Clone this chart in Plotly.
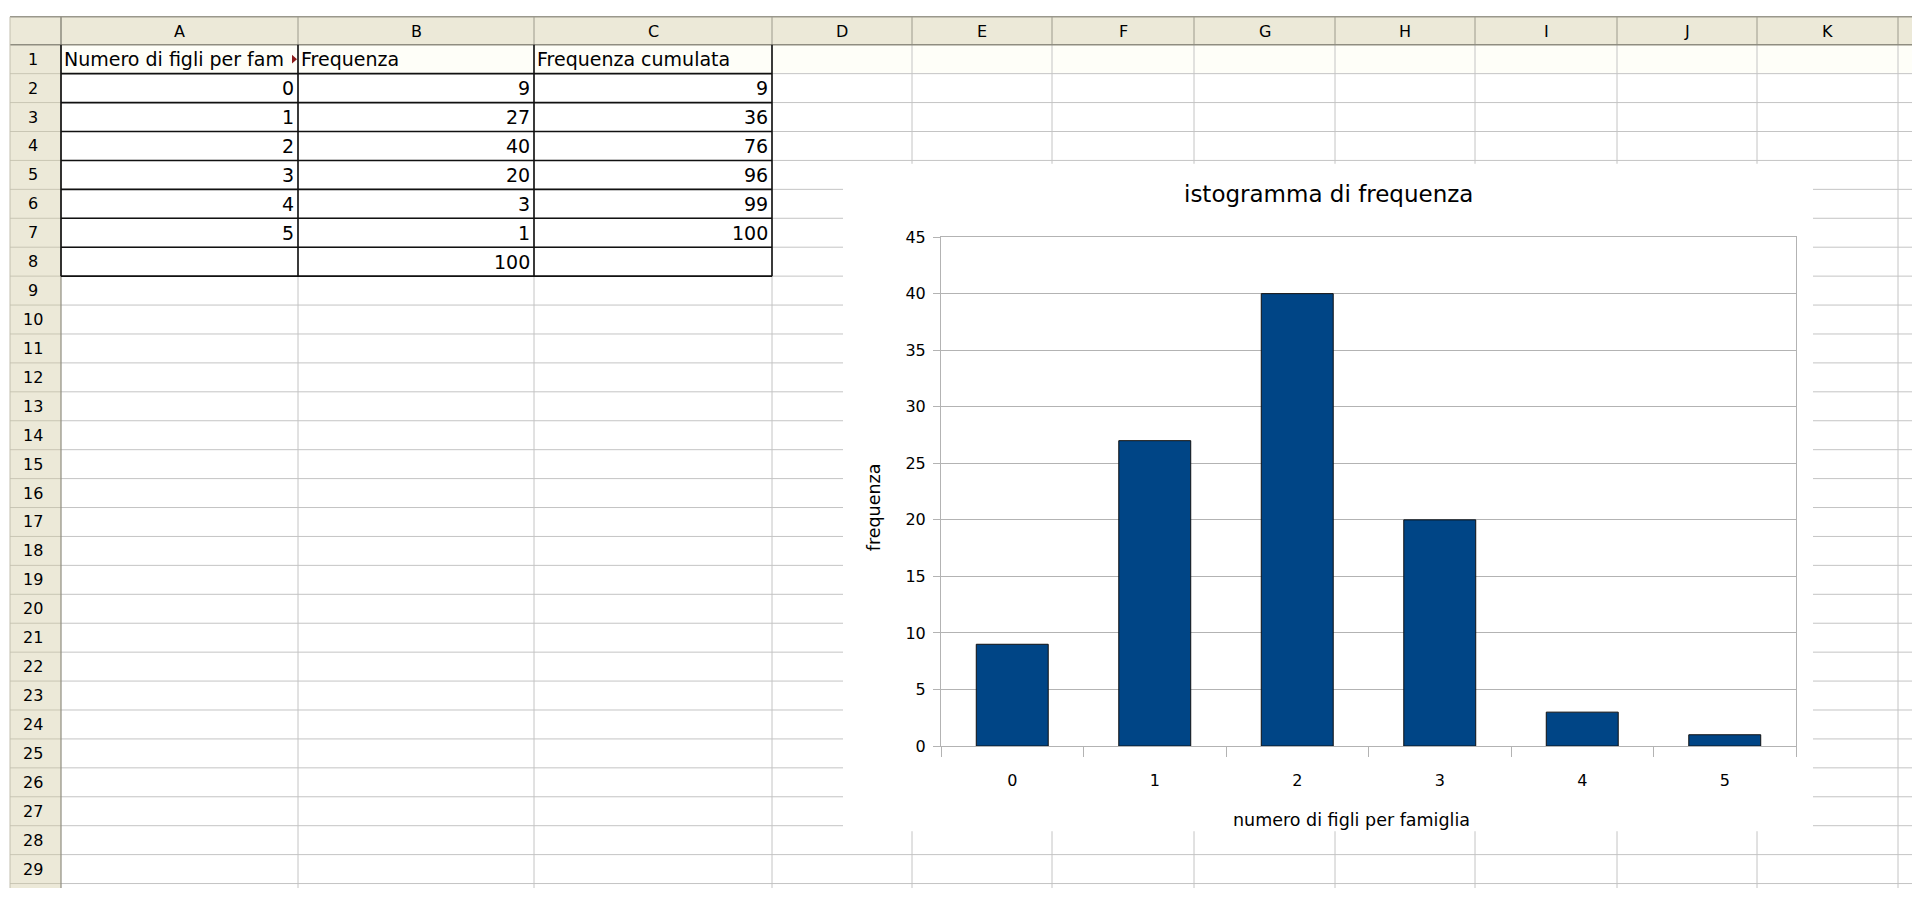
import plotly.graph_objects as go

# --- data shown in the sheet and in the chart ---
figli = [0, 1, 2, 3, 4, 5]
frequenza = [9, 27, 40, 20, 3, 1]
frequenza_cumulata = [9, 36, 76, 96, 99, 100]
totale = 100
intestazioni = ["Numero di figli per fam", "Frequenza", "Frequenza cumulata"]
colonne = ["A", "B", "C", "D", "E", "F", "G", "H", "I", "J", "K"]
n_righe = 29

titolo = "istogramma di frequenza"
titolo_x = "numero di figli per famiglia"
titolo_y = "frequenza"

# --- page geometry (pixels) ---
W, H = 1912, 898
LEFT, TOP = 10, 8              # sheet origin
ROWNUM_R = 61                  # right edge of the row-number column
HEAD_B = 36.5                  # bottom of the column-letter header
ROW_H = 29.55
COL_EDGES = [61, 298, 534, 772, 912, 1052, 1194, 1335, 1475, 1617, 1757, 1898]
CHART_BOX = (843, 158, 1813, 840)
PLOT_BOX = (941, 233, 1796, 753)

FONT = "DejaVu Sans"
CELL_SIZE = 19
GRID = "#c4c4c4"
HEAD_BG = "#ece9d8"
HEAD_LINE = "#8f8d80"


def fx(x):
    return x / W


def fy(y):
    return 1 - y / H


def row_y(k):
    # top edge of spreadsheet row k (1-based)
    return HEAD_B + (k - 1) * ROW_H


shapes = []


def line(x0, y0, x1, y1, color, width=1.0):
    shapes.append(dict(type="line", xref="paper", yref="paper",
                       x0=fx(x0), y0=fy(y0), x1=fx(x1), y1=fy(y1),
                       line=dict(color=color, width=width), layer="below"))


def rect(x0, y0, x1, y1, fill):
    shapes.append(dict(type="rect", xref="paper", yref="paper",
                       x0=fx(x0), y0=fy(y0), x1=fx(x1), y1=fy(y1),
                       fillcolor=fill, line=dict(width=0), layer="below"))


# header strips
rect(LEFT, TOP, W, HEAD_B, HEAD_BG)
rect(LEFT, HEAD_B, ROWNUM_R, H, HEAD_BG)
rect(ROWNUM_R, row_y(1), W, row_y(2), "#fefef8")

# cell grid
for x in COL_EDGES[1:]:
    line(x, HEAD_B, x, H, GRID)
for k in range(2, n_righe + 2):
    line(ROWNUM_R, row_y(k), W, row_y(k), GRID)
    line(LEFT, row_y(k), ROWNUM_R, row_y(k), "#c9c6b4")

# header borders
for x in COL_EDGES:
    line(x, TOP, x, HEAD_B, "#9c9a8c")
line(LEFT, TOP, W, TOP, "#9a988c", 1.5)
line(LEFT, HEAD_B, W, HEAD_B, HEAD_LINE, 1.5)
line(ROWNUM_R, TOP, ROWNUM_R, H, HEAD_LINE, 1.2)
line(LEFT, TOP, LEFT, H, "#c2bfae", 1.0)

# black borders around the table A1:C8
tab_bottom = row_y(9)
for x in COL_EDGES[:4]:
    line(x, HEAD_B, x, tab_bottom, "#111111", 1.6)
for k in range(2, 10):
    line(ROWNUM_R, row_y(k), COL_EDGES[3], row_y(k), "#111111", 1.6)

# text-overflow marker at the right of A1
ymid1 = (row_y(1) + row_y(2)) / 2
shapes.append(dict(type="path", xref="paper", yref="paper",
                   path="M {} {} L {} {} L {} {} Z".format(
                       fx(292), fy(ymid1 - 4.5), fx(297), fy(ymid1),
                       fx(292), fy(ymid1 + 4.5)),
                   fillcolor="#8b1a1a", line=dict(width=0), layer="below"))

# chart container
rect(*CHART_BOX, "#ffffff")

annotations = []


def text(x, y, s, size, xanchor="center", color="#000000", angle=0):
    annotations.append(dict(xref="paper", yref="paper", x=fx(x), y=fy(y),
                            text=s, showarrow=False, xanchor=xanchor,
                            yanchor="middle", textangle=angle,
                            font=dict(family=FONT, size=size, color=color)))


# column letters
for i, c in enumerate(colonne):
    text((COL_EDGES[i] + COL_EDGES[i + 1]) / 2, (TOP + HEAD_B) / 2 + 1, c, 16)
# row numbers
for k in range(1, n_righe + 1):
    text((LEFT + ROWNUM_R) / 2 - 3, (row_y(k) + row_y(k + 1)) / 2, str(k), 16)

# header row of the table
for i, s in enumerate(intestazioni):
    text(COL_EDGES[i] + 1, ymid1, s, CELL_SIZE, xanchor="left")

# table values
for r, (a, b, c) in enumerate(zip(figli, frequenza, frequenza_cumulata)):
    ym = (row_y(r + 2) + row_y(r + 3)) / 2
    text(COL_EDGES[1] - 2, ym, str(a), CELL_SIZE, xanchor="right")
    text(COL_EDGES[2] - 2, ym, str(b), CELL_SIZE, xanchor="right")
    text(COL_EDGES[3] - 2, ym, str(c), CELL_SIZE, xanchor="right")
text(COL_EDGES[2] - 2, (row_y(8) + row_y(9)) / 2, str(totale), CELL_SIZE,
     xanchor="right")

# chart titles
text((CHART_BOX[0] + CHART_BOX[2]) / 2, 189, titolo, 23)
text(1351, 829, titolo_x, 17.5)
text(874, 509, titolo_y, 17.5, angle=-90)

fig = go.Figure(go.Bar(
    x=[str(v) for v in figli],
    y=frequenza,
    marker=dict(color="#004586", line=dict(color="#111111", width=1)),
    hoverinfo="x+y",
))

axis_gray = "#b3b3b3"
fig.update_layout(
    width=W, height=H,
    margin=dict(l=0, r=0, t=0, b=0, pad=0),
    paper_bgcolor="#ffffff",
    plot_bgcolor="#ffffff",
    showlegend=False,
    bargap=0.495,
    shapes=shapes,
    annotations=annotations,
    xaxis=dict(
        domain=[fx(PLOT_BOX[0]), fx(PLOT_BOX[2])],
        type="category",
        tickson="boundaries",
        ticks="outside", ticklen=10, tickcolor=axis_gray, tickwidth=1,
        showline=True, linecolor=axis_gray, linewidth=1, mirror=True,
        showgrid=False, zeroline=False,
        tickfont=dict(family=FONT, size=16, color="#000000"),
        ticklabelstandoff=20,
        fixedrange=True,
    ),
    yaxis=dict(
        domain=[fy(PLOT_BOX[3]), fy(PLOT_BOX[1])],
        range=[0, 45], tick0=0, dtick=5,
        ticks="outside", ticklen=7, tickcolor=axis_gray, tickwidth=1,
        showline=True, linecolor=axis_gray, linewidth=1, mirror=True,
        showgrid=True, gridcolor=axis_gray, gridwidth=1, zeroline=False,
        tickfont=dict(family=FONT, size=16, color="#000000"),
        ticklabelstandoff=4,
        fixedrange=True,
    ),
)

fig.write_html("out.html", config={"displayModeBar": False})
